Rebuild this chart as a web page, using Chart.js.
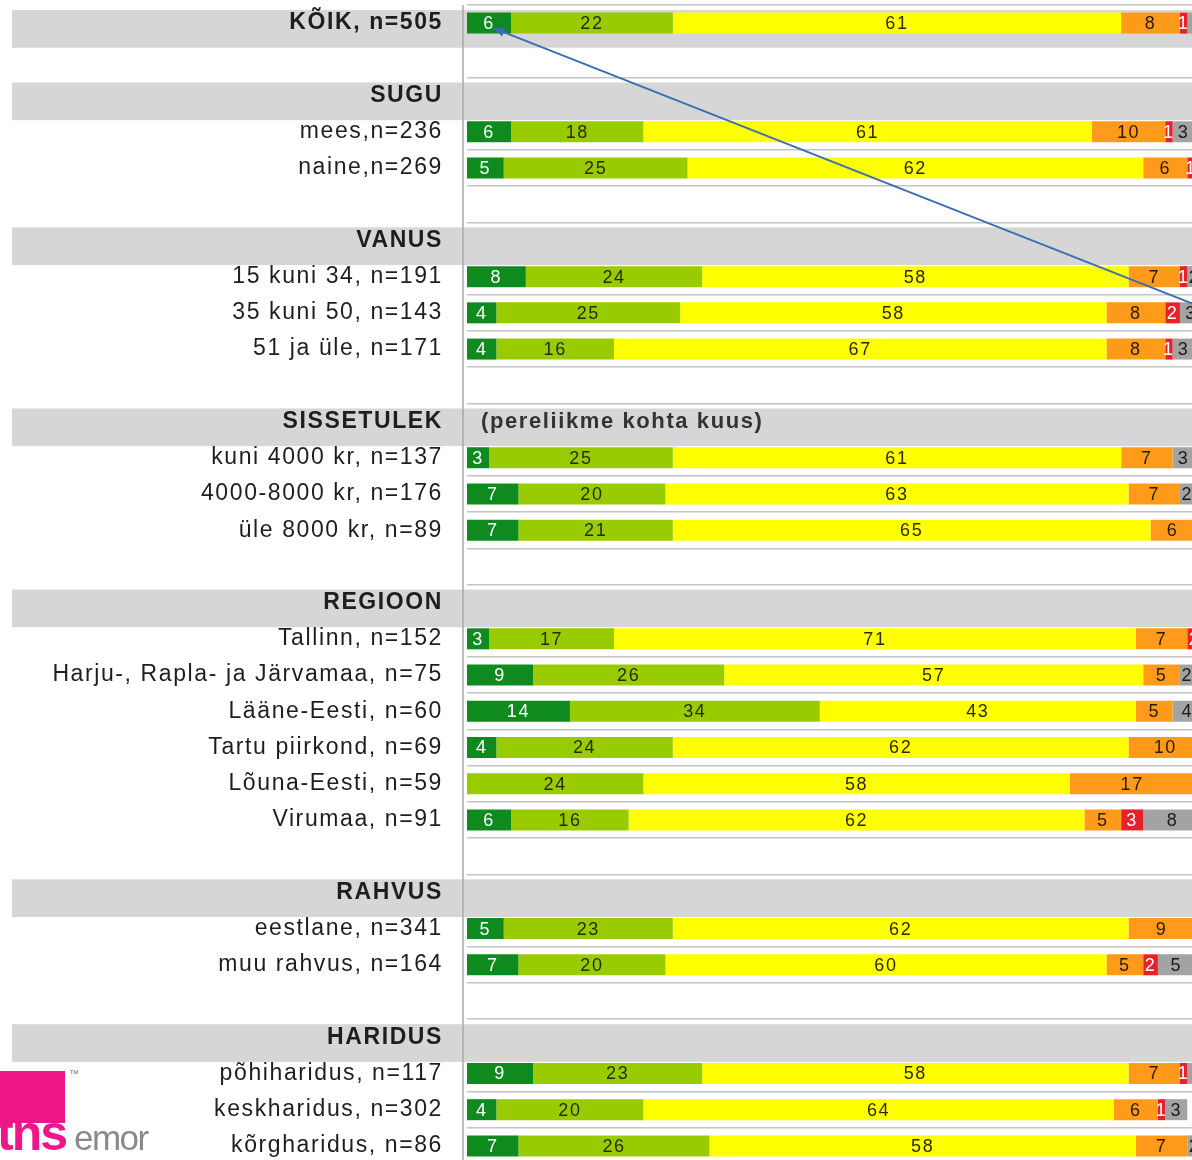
<!DOCTYPE html>
<html>
<head>
<meta charset="utf-8">
<script src="https://cdn.jsdelivr.net/npm/chart.js@4.4.0/dist/chart.umd.min.js"></script>
<style>
html, body { margin: 0; padding: 0; background: #fff; overflow: hidden; }
#wrap { position: relative; width: 1192px; height: 1160px; overflow: hidden; }
#myChart { position: absolute; left: 0; top: 0; }
.tns-block { position: absolute; left: 0; top: 1071px; width: 65px; height: 52px; background: #ee1689; }
.tns-text { position: absolute; left: -3px; top: 1104px; font: bold 50px "Liberation Sans", Arial, sans-serif; color: #ee1689; letter-spacing: -2px; }
.tm { position: absolute; left: 69px; top: 1068px; font: 10px "Liberation Sans", Arial, sans-serif; color: #777; }
.emor { position: absolute; left: 74px; top: 1118px; font: 35px "Liberation Sans", Arial, sans-serif; color: #8a8a8a; letter-spacing: -1.5px; }
</style>
</head>
<body>
<div id="wrap">
<canvas id="myChart" width="1205" height="1166"></canvas>
<div class="tns-block"></div>
<div class="tns-text">tns</div>
<div class="tm">™</div>
<div class="emor">emor</div>
</div>
<script>
var n = null;

var labels = [
    'KÕIK, n=505', '',
    'SUGU', 'mees,n=236', 'naine,n=269', '',
    'VANUS', '15 kuni 34, n=191', '35 kuni 50, n=143', '51 ja üle, n=171', '',
    'SISSETULEK', 'kuni 4000 kr, n=137', '4000-8000 kr, n=176', 'üle 8000 kr, n=89', '',
    'REGIOON', 'Tallinn, n=152', 'Harju-, Rapla- ja Järvamaa, n=75', 'Lääne-Eesti, n=60',
    'Tartu piirkond, n=69', 'Lõuna-Eesti, n=59', 'Virumaa, n=91', '',
    'RAHVUS', 'eestlane, n=341', 'muu rahvus, n=164', '',
    'HARIDUS', 'põhiharidus, n=117', 'keskharidus, n=302', 'kõrgharidus, n=86'
];
var headerRows = [0, 2, 6, 11, 16, 24, 28];
var headerNotes = [[11, '(pereliikme kohta kuus)']];

var darkGreen  = [6,n, n,6,5,n, n,8,4,4,n, n,3,7,7,n, n,3,9,14,4,0,6,n, n,5,7,n, n,9,4,7];
var lightGreen = [22,n, n,18,25,n, n,24,25,16,n, n,25,20,21,n, n,17,26,34,24,24,16,n, n,23,20,n, n,23,20,26];
var yellow     = [61,n, n,61,62,n, n,58,58,67,n, n,61,63,65,n, n,71,57,43,62,58,62,n, n,62,60,n, n,58,64,58];
var orange     = [8,n, n,10,6,n, n,7,8,8,n, n,7,7,6,n, n,7,5,5,10,17,5,n, n,9,5,n, n,7,6,7];
var red        = [1,n, n,1,1,n, n,1,2,1,n, n,0,0,1,n, n,2,0,0,0,0,3,n, n,0,2,n, n,1,1,0];
var gray       = [3,n, n,3,1,n, n,2,3,3,n, n,3,2,0,n, n,0,2,4,0,2,8,n, n,1,5,n, n,3,3,2];

// arrow drawn over the chart, in data units (x = percent, y = row index)
var arrowFrom = [3.6, 0.14];
var arrowTo = [100, 7.85];

var segColors   = ['#0f8a1f', '#99cc00', '#ffff00', '#ff9a1a', '#e8202a', '#a3a3a3'];
var labelColors = ['#ffffff', '#2a2a00', '#2a2a00', '#2a1a00', '#ffffff', '#1a1a1a'];

Chart.defaults.font.family = '"Liberation Sans", Arial, sans-serif';

var overlay = {
    id: 'overlay',
    beforeDraw: function(chart) {
        var ctx = chart.ctx, y = chart.scales.y;
        var step = y.getPixelForValue(1) - y.getPixelForValue(0);
        ctx.save();
        ctx.fillStyle = '#d6d6d6';
        headerRows.forEach(function(i) {
            var c = y.getPixelForValue(i);
            ctx.fillRect(12, c - step * 0.36, chart.width - 12, step * 1.04);
        });
        ctx.restore();
        // the source text is a bit wider spaced than plain Arial
        ctx.letterSpacing = '1.6px';
    },
    beforeDatasetsDraw: function(chart) {
        var ctx = chart.ctx, area = chart.chartArea, y = chart.scales.y;
        ctx.save();
        ctx.strokeStyle = '#a8a8a8';
        ctx.lineWidth = 1.5;
        ctx.beginPath();
        ctx.moveTo(area.left - 4, area.top);
        ctx.lineTo(area.left - 4, area.bottom);
        ctx.stroke();
        ctx.fillStyle = '#333';
        ctx.font = 'bold 22px "Liberation Sans", Arial, sans-serif';
        ctx.textAlign = 'left';
        ctx.textBaseline = 'middle';
        headerNotes.forEach(function(note) {
            ctx.fillText(note[1], area.left + 14, y.getPixelForValue(note[0]));
        });
        ctx.restore();
    },
    afterDatasetsDraw: function(chart) {
        var ctx = chart.ctx;
        ctx.save();
        ctx.font = '18px "Liberation Sans", Arial, sans-serif';
        ctx.textAlign = 'center';
        ctx.textBaseline = 'middle';
        chart.data.datasets.forEach(function(ds, di) {
            var meta = chart.getDatasetMeta(di);
            meta.data.forEach(function(bar, i) {
                var v = ds.data[i];
                if (!v) return;
                var p = bar.getProps(['x', 'base', 'y'], true);
                ctx.fillStyle = labelColors[di];
                ctx.fillText(v, (p.x + p.base) / 2, p.y + 1);
            });
        });

        // blue arrow
        var xs = chart.scales.x, ys = chart.scales.y;
        var x1 = xs.getPixelForValue(arrowFrom[0]), y1 = ys.getPixelForValue(arrowFrom[1]);
        var x2 = xs.getPixelForValue(arrowTo[0]), y2 = ys.getPixelForValue(arrowTo[1]);
        var ang = Math.atan2(y1 - y2, x1 - x2);
        ctx.strokeStyle = '#3d6db4';
        ctx.fillStyle = '#3d6db4';
        ctx.lineWidth = 2;
        ctx.beginPath();
        ctx.moveTo(x2, y2);
        ctx.lineTo(x1, y1);
        ctx.stroke();
        ctx.beginPath();
        ctx.moveTo(x1, y1);
        ctx.lineTo(x1 - 12 * Math.cos(ang - 0.4), y1 - 12 * Math.sin(ang - 0.4));
        ctx.lineTo(x1 - 12 * Math.cos(ang + 0.4), y1 - 12 * Math.sin(ang + 0.4));
        ctx.closePath();
        ctx.fill();
        ctx.restore();
    }
};

var series = [darkGreen, lightGreen, yellow, orange, red, gray];
var datasets = series.map(function(data, i) {
    return {
        label: 'segment ' + (i + 1),
        data: data,
        backgroundColor: segColors[i],
        borderWidth: 0,
        barPercentage: 0.58,
        categoryPercentage: 1,
        stack: 'all'
    };
});

var ctx = document.getElementById('myChart').getContext('2d');
var chart = new Chart(ctx, {
    type: 'bar',
    data: { labels: labels, datasets: datasets },
    options: {
        indexAxis: 'y',
        responsive: false,
        animation: false,
        devicePixelRatio: 1,
        layout: { padding: { left: 0, right: 3, top: 5, bottom: 2 } },
        scales: {
            x: {
                stacked: true,
                min: 0,
                max: 100,
                display: false
            },
            y: {
                stacked: true,
                afterFit: function(scale) {
                    scale.width = 467;
                    scale.paddingTop = 0;
                    scale.paddingBottom = 0;
                },
                border: { display: false },
                grid: {
                    offset: true,
                    drawTicks: false,
                    lineWidth: 1.5,
                    color: function(c) {
                        // hide lines that fall inside the grey header bands
                        return headerRows.indexOf(c.index - 1) >= 0 ? 'rgba(0,0,0,0)' : '#c4c4c4';
                    }
                },
                ticks: {
                    autoSkip: false,
                    padding: 24,
                    color: '#1e1e1e',
                    font: function(c) {
                        return {
                            size: 23,
                            weight: headerRows.indexOf(c.index) >= 0 ? 'bold' : 'normal'
                        };
                    }
                }
            }
        },
        plugins: {
            legend: { display: false },
            tooltip: { enabled: false }
        }
    },
    plugins: [overlay]
});
</script>
</body>
</html>
